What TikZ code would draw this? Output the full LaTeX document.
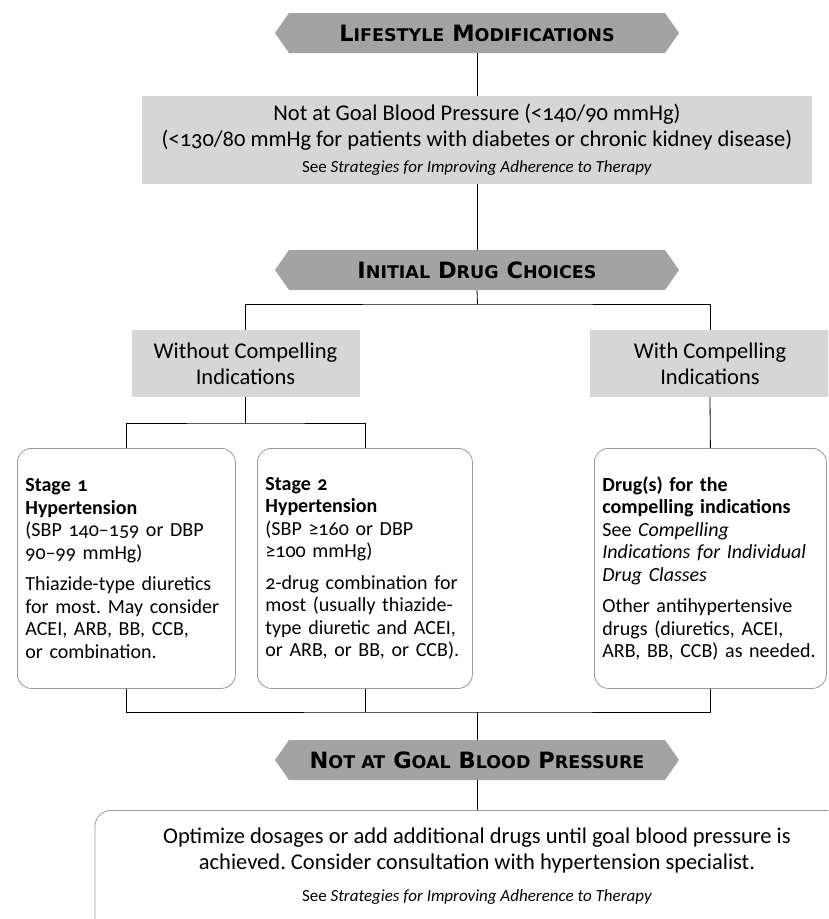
\documentclass[tikz,border=0pt]{standalone}
\usepackage{fontspec}
\setmainfont{Carlito}[Numbers=OldStyle]
\newfontfamily\bannerfont{DejaVu Sans}
\usetikzlibrary{shapes.symbols}
\definecolor{bannergray}{gray}{0.64}
\definecolor{boxgray}{gray}{0.84}
\definecolor{framegray}{gray}{0.6}
\newcommand\fsc[2]{#1{\fontsize{17.5}{17.5}\selectfont #2}}
\frenchspacing
\tikzset{
  banner/.style={shape=signal, signal to=west and east, signal pointer angle=110,
    fill=bannergray, minimum width=404, minimum height=40, inner sep=0pt,
    font=\bannerfont\bfseries\fontsize{22.5}{22.5}\selectfont},
  graybox/.style={fill=boxgray, inner sep=0pt, align=center,
    font=\fontsize{22.5}{26}\selectfont},
  stagebox/.style={draw=framegray, line width=0.8pt, rounded corners=14pt,
    anchor=north west, inner xsep=8pt, inner ysep=0pt, align=left,
    minimum height=240, font=\fontsize{20}{22.5}\selectfont},
  bigbox/.style={draw=framegray, line width=0.8pt, rounded corners=16pt,
    inner sep=0pt, minimum width=764, minimum height=160},
  conn/.style={draw=black, line width=0.8pt},
}
\begin{document}
\begin{tikzpicture}[x=1pt,y=-1pt]
\useasboundingbox (0,0) rectangle (828,919);
\clip (0,0) rectangle (828,919);

% banners
\node[banner] (b1) at (477,33) {\fsc{L}{IFESTYLE} \fsc{M}{ODIFICATIONS}};
\node[banner] (b2) at (477,270) {\fsc{I}{NITIAL} \fsc{D}{RUG} \fsc{C}{HOICES}};
\node[banner] (b3) at (477,760) {\fsc{N}{OT AT} \fsc{G}{OAL} \fsc{B}{LOOD} \fsc{P}{RESSURE}};

% first gray box
\node[graybox, minimum width=670, minimum height=88] (g1) at (477,140)
  {Not at Goal Blood Pressure (<140/90 mmHg)\\
   (<130/80 mmHg for patients with diabetes or chronic kidney disease)\\
   {\fontsize{17}{22}\selectfont See \textit{Strategies for Improving Adherence to Therapy}}};

% branch gray boxes
\node[graybox, minimum width=228, minimum height=67] (gL) at (245.5,363.5)
  {Without Compelling\\Indications};
\node[graybox, minimum width=240, minimum height=67] (gR) at (710,363.5)
  {With Compelling\\Indications};

% stage boxes
\node[stagebox, text width=202] (s1) at (17,448)
  {\textbf{Stage 1}\\
   \textbf{Hypertension}\\
   (SBP 140–159 or DBP\\
   90–99 mmHg)\\[9pt]
   Thiazide-type diuretics\\
   for most. May consider\\
   ACEI, ARB, BB, CCB,\\
   or combination.};
\node[stagebox, text width=199] (s2) at (257,448)
  {\textbf{Stage 2}\\
   \textbf{Hypertension}\\
   (SBP ≥160 or DBP\\
   ≥100 mmHg)\\[9pt]
   2-drug combination for\\
   most (usually thiazide-\\
   type diuretic and ACEI,\\
   or ARB, or BB, or CCB).};
\node[stagebox, text width=216] (r) at (594,448)
  {\textbf{Drug(s) for the}\\
   \textbf{compelling indications}\\
   See \textit{Compelling}\\
   \textit{Indications for Individual}\\
   \textit{Drug Classes}\\[9pt]
   Other antihypertensive\\
   drugs (diuretics, ACEI,\\
   ARB, BB, CCB) as needed.};

% bottom box
\node[bigbox, anchor=north] (bx) at (477,810) {};
\node[align=center, font=\fontsize{22.5}{26}\selectfont, anchor=north] (bt) at (477,824)
  {Optimize dosages or add additional drugs until goal blood pressure is\\
   achieved. Consider consultation with hypertension specialist.};
\node[font=\fontsize{17}{20}\selectfont] (bs) at (477,897)
  {See \textit{Strategies for Improving Adherence to Therapy}};

% junctions
\coordinate (j1) at (477.5,304);
\coordinate (j2) at (245.5,423);
\coordinate (j3) at (477,712);

% connectors
\draw[conn] (b1.south) -- (g1.north);
\draw[conn] (g1.south) -- (b2.north);
\draw[conn] (b2.south) -- (j1);
\draw[conn] (gL.north) |- (j1) -| (gR.north);
\draw[conn] (gL.south) -- (j2);
\draw[conn] (s1.north) |- (j2) -| (s2.north);
\draw[conn] (gR.south) -- (r.north);
\draw[conn] (s1.south) |- (j3) -| (r.south);
\draw[conn] (s2.south) -- (s2.south |- j3);
\draw[conn] (j3) -- (b3.north);
\draw[conn] (b3.south) -- (bx.north);
\end{tikzpicture}
\end{document}
